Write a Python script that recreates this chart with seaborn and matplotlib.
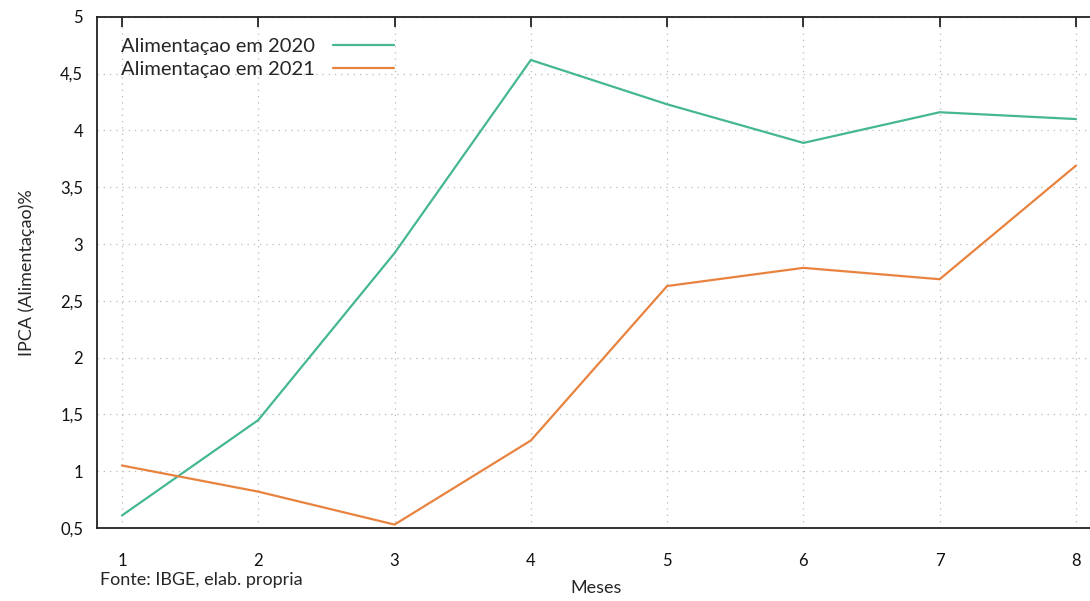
import pandas as pd
import matplotlib.pyplot as plt
import seaborn as sns

meses = [1, 2, 3, 4, 5, 6, 7, 8]
ipca_2020 = [0.61, 1.45, 2.92, 4.62, 4.23, 3.89, 4.16, 4.10]
ipca_2021 = [1.05, 0.82, 0.53, 1.27, 2.63, 2.79, 2.69, 3.69]
y_ticks = [0.5, 1, 1.5, 2, 2.5, 3, 3.5, 4, 4.5, 5]
y_labels = ["0,5", "1", "1,5", "2", "2,5", "3", "3,5", "4", "4,5", "5"]

df = pd.DataFrame({
    "Meses": meses * 2,
    "IPCA": ipca_2020 + ipca_2021,
    "serie": ["Alimentaçao em 2020"] * 8 + ["Alimentaçao em 2021"] * 8,
})

sns.set_style("white")
plt.rcParams["font.family"] = ["Lato", "DejaVu Sans"]

fig = plt.figure(figsize=(10.9, 6.01), dpi=100)
# right border sits just outside the picture, as in the reference
ax = fig.add_axes([0.089, 0.1215, 0.9165, 0.8505])

sns.lineplot(
    data=df, x="Meses", y="IPCA", hue="serie",
    palette=["#45b792", "#e8833f"], linewidth=1.6, ax=ax
)

ax.set_xlim(0.817, 8.147)
ax.set_ylim(0.5, 5)
ax.set_xticks(meses)
ax.set_xticklabels([str(m) for m in meses])
ax.set_yticks(y_ticks)
ax.set_yticklabels(y_labels)

ax.grid(True, linestyle=(0, (1, 4)), color="#bbbbbb", linewidth=0.9)
ax.tick_params(direction="in", length=7, width=1.2, top=True, right=False,
               labelsize=12, colors="#111111")
ax.tick_params(axis="x", pad=18)
ax.tick_params(axis="y", pad=10)
for s in ax.spines.values():
    s.set_visible(True)
    s.set_color("#222222")
    s.set_linewidth(1.3)

ax.set_xlabel("Meses", fontsize=13, labelpad=8)
ax.set_ylabel("IPCA (Alimentaçao)%", fontsize=13, labelpad=18)

ax.legend(loc="upper left", bbox_to_anchor=(0.006, 0.995), frameon=False,
          markerfirst=False, fontsize=14.5, handlelength=3.0,
          labelspacing=0.3, handletextpad=0.9)

fig.text(0.092, 0.035, "Fonte: IBGE, elab. propria", fontsize=13, va="center")

fig.savefig("out.png", dpi=100)
